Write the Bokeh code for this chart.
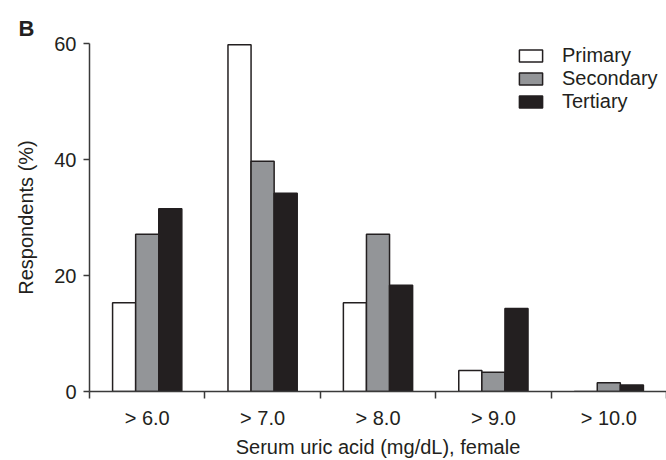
from bokeh.plotting import figure
from bokeh.models import ColumnDataSource, FixedTicker, Range1d, Legend, LegendItem, Title
from bokeh.embed import file_html
from bokeh.resources import INLINE

categories = ["> 6.0", "> 7.0", "> 8.0", "> 9.0", "> 10.0"]
primary = [15.3, 59.8, 15.3, 3.6, 0.0]
secondary = [27.1, 39.7, 27.1, 3.3, 1.5]
tertiary = [31.5, 34.2, 18.3, 14.3, 1.1]
series_names = ["Primary", "Secondary", "Tertiary"]
y_ticks = [0, 20, 40, 60]
x_title = "Serum uric acid (mg/dL), female"
y_title = "Respondents (%)"
panel_letter = "B"

FONT = "Liberation Sans"
TXT = "#231f20"
AX = "#3a3a3a"

p = figure(width=666, height=460, output_backend="svg", toolbar_location=None,
           x_range=Range1d(0, len(categories)), y_range=Range1d(0, 60),
           min_border_left=89, min_border_right=0, min_border_top=43, min_border_bottom=67)
p.outline_line_color = None
p.xgrid.visible = False
p.ygrid.visible = False
p.background_fill_color = "white"
p.border_fill_color = "white"

p.title = Title(text=panel_letter, align="left", offset=-71, standoff=5,
                text_font=FONT, text_font_size="22px", text_font_style="bold",
                text_color=TXT)

centers = [i + 0.5 for i in range(len(categories))]
fills = ["white", "#939598", "#231f20"]
data_series = [primary, secondary, tertiary]
offsets = [-0.2, 0.0, 0.2]
renderers = []
for vals, off, fc in zip(data_series, offsets, fills):
    src = ColumnDataSource(dict(x=[c + off for c in centers], top=vals))
    r = p.vbar(x="x", top="top", bottom=0, width=0.2, source=src,
               fill_color=fc, line_color="#231f20", line_width=1.5)
    renderers.append(r)

# x axis: labels at category centers, boundary ticks as minor ticks
p.xaxis.ticker = FixedTicker(ticks=centers, minor_ticks=list(range(len(categories) + 1)))
p.xaxis.major_label_overrides = {c: lab for c, lab in zip(centers, categories)}
p.xaxis.minor_tick_in = 0
p.xaxis.minor_tick_out = 7
p.xaxis.minor_tick_line_color = AX
p.xaxis.minor_tick_line_width = 1.5
p.xaxis.axis_label = x_title
p.xaxis.major_label_standoff = 8
p.xaxis.axis_label_standoff = 4

p.yaxis.ticker = FixedTicker(ticks=y_ticks, minor_ticks=[])
p.yaxis.major_tick_in = 0
p.yaxis.major_tick_out = 6
p.yaxis.major_tick_line_color = AX
p.yaxis.major_tick_line_width = 1.5
p.yaxis.axis_label = y_title
p.yaxis.major_label_standoff = 7
p.yaxis.axis_label_standoff = 14

for ax in (p.xaxis[0], p.yaxis[0]):
    ax.axis_line_color = AX
    ax.axis_line_width = 1.5
    ax.major_label_text_font = FONT
    ax.major_label_text_font_size = "20px"
    ax.major_label_text_color = TXT
    ax.axis_label_text_font = FONT
    ax.axis_label_text_font_size = "20px"
    ax.axis_label_text_font_style = "normal"
    ax.axis_label_text_color = TXT
p.xaxis.major_tick_line_color = None

legend = Legend(items=[LegendItem(label=n, renderers=[r]) for n, r in zip(series_names, renderers)],
                location=(427, 278), padding=0, margin=0, spacing=0,
                glyph_width=29, glyph_height=15, label_standoff=17, label_height=20,
                border_line_color=None, background_fill_alpha=0,
                label_text_font=FONT, label_text_font_size="20px", label_text_color=TXT)
p.add_layout(legend)

open("out.html", "w").write(file_html(p, INLINE))
